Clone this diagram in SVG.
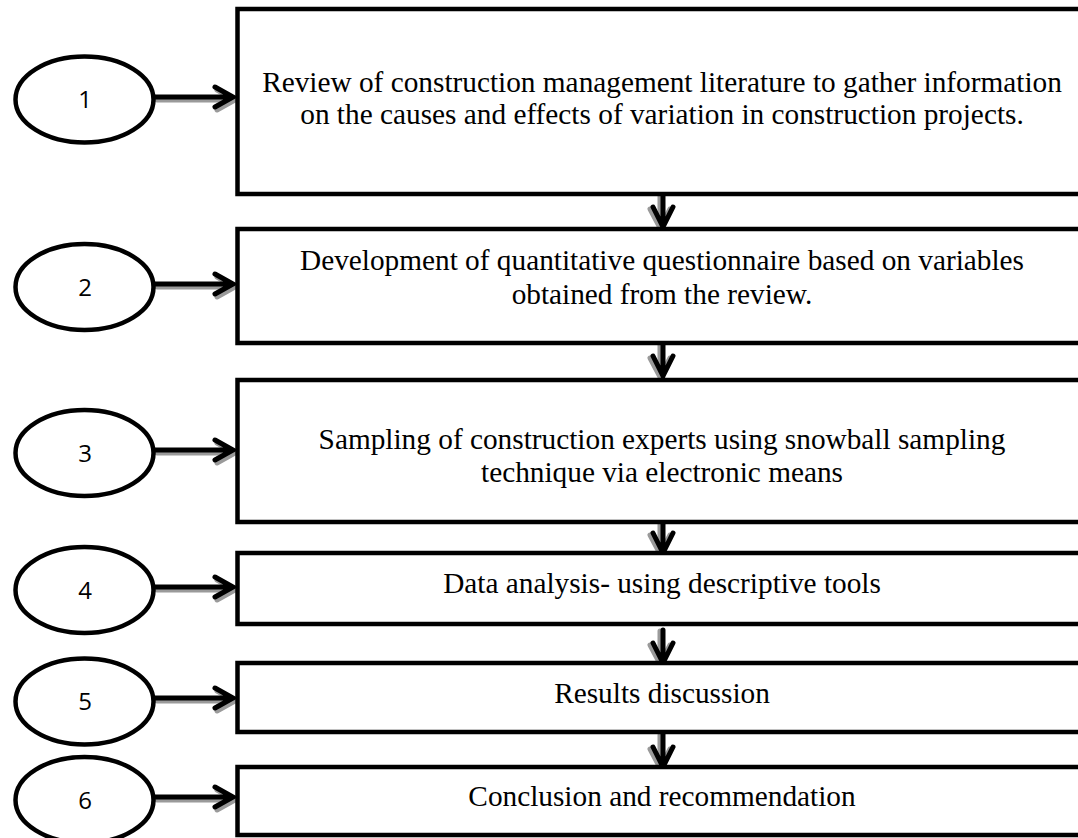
<svg xmlns="http://www.w3.org/2000/svg" width="1078" height="838" viewBox="0 0 1078 838">
<style>
.box{fill:#fff;stroke:#000;stroke-width:4.5}
.ell{fill:#fff;stroke:#000;stroke-width:4.5}
.txt{font-family:"Liberation Serif","Times New Roman",serif;font-size:29.3px;fill:#000;text-anchor:middle}
.num{font-family:"Open Sans","Liberation Sans",sans-serif;font-size:24px;fill:#000;text-anchor:middle}
.ar{fill:none;stroke:#000;stroke-width:5;stroke-linecap:round;stroke-linejoin:miter}
.sh{fill:none;stroke:#9a9a9a;stroke-width:5;stroke-linecap:round;stroke-linejoin:miter}
</style>
<defs>
<g id="harrow">
<path class="sh" d="M2 3 H78 M62 -7 L80 3 L62 13"/>
<path class="ar" d="M0 0 H78 M60 -10 L78 0 L60 10"/>
</g>
<g id="varrow">
<path class="sh" d="M-3 1 V33 M-13 15 L-3 34 L7 15"/>
<path class="ar" d="M0 0 V33 M-10 13 L0 33 L10 13"/>
</g>
</defs>
<rect width="1078" height="838" fill="#fff"/>
<g id="connectors">
<use href="#harrow" x="155" y="97"/>
<use href="#harrow" x="155" y="284"/>
<use href="#harrow" x="155" y="450"/>
<use href="#harrow" x="155" y="587"/>
<use href="#harrow" x="155" y="698"/>
<use href="#harrow" x="155" y="797"/>
<use href="#varrow" x="663" y="194"/>
<use href="#varrow" x="663" y="343"/>
<use href="#varrow" x="663" y="520"/>
<use href="#varrow" x="663" y="630"/>
<use href="#varrow" x="663" y="734"/>
</g>
<g id="e1"><ellipse class="ell" cx="84.5" cy="99.5" rx="69" ry="43"/><text class="num" x="85" y="108">1</text></g>
<g id="e2"><ellipse class="ell" cx="84.5" cy="287" rx="69" ry="43"/><text class="num" x="85" y="295.5">2</text></g>
<g id="e3"><ellipse class="ell" cx="84.5" cy="453" rx="69" ry="43"/><text class="num" x="85" y="461.5">3</text></g>
<g id="e4"><ellipse class="ell" cx="84.5" cy="590" rx="69" ry="43"/><text class="num" x="85" y="598.5">4</text></g>
<g id="e5"><ellipse class="ell" cx="84.5" cy="701.5" rx="69" ry="43"/><text class="num" x="85" y="710">5</text></g>
<g id="e6"><ellipse class="ell" cx="84.5" cy="800" rx="69" ry="43"/><text class="num" x="85" y="808.5">6</text></g>
<g id="b1"><rect class="box" x="237.5" y="9" width="850" height="185"/>
<text class="txt" x="662" y="92">Review of construction management literature to gather information</text>
<text class="txt" x="662" y="124">on the causes and effects of variation in construction projects.</text></g>
<g id="b2"><rect class="box" x="237.5" y="229" width="850" height="114"/>
<text class="txt" x="662" y="270">Development of quantitative questionnaire based on variables</text>
<text class="txt" x="662" y="304">obtained from the review.</text></g>
<g id="b3"><rect class="box" x="237.5" y="380" width="850" height="142"/>
<text class="txt" x="662" y="449">Sampling of construction experts using snowball sampling</text>
<text class="txt" x="662" y="482">technique via electronic means</text></g>
<g id="b4"><rect class="box" x="237.5" y="553" width="850" height="71"/>
<text class="txt" x="662" y="593">Data analysis- using descriptive tools</text></g>
<g id="b5"><rect class="box" x="237.5" y="663" width="850" height="69"/>
<text class="txt" x="662" y="703">Results discussion</text></g>
<g id="b6"><rect class="box" x="237.5" y="767" width="850" height="68"/>
<text class="txt" x="662" y="806">Conclusion and recommendation</text></g>
</svg>
